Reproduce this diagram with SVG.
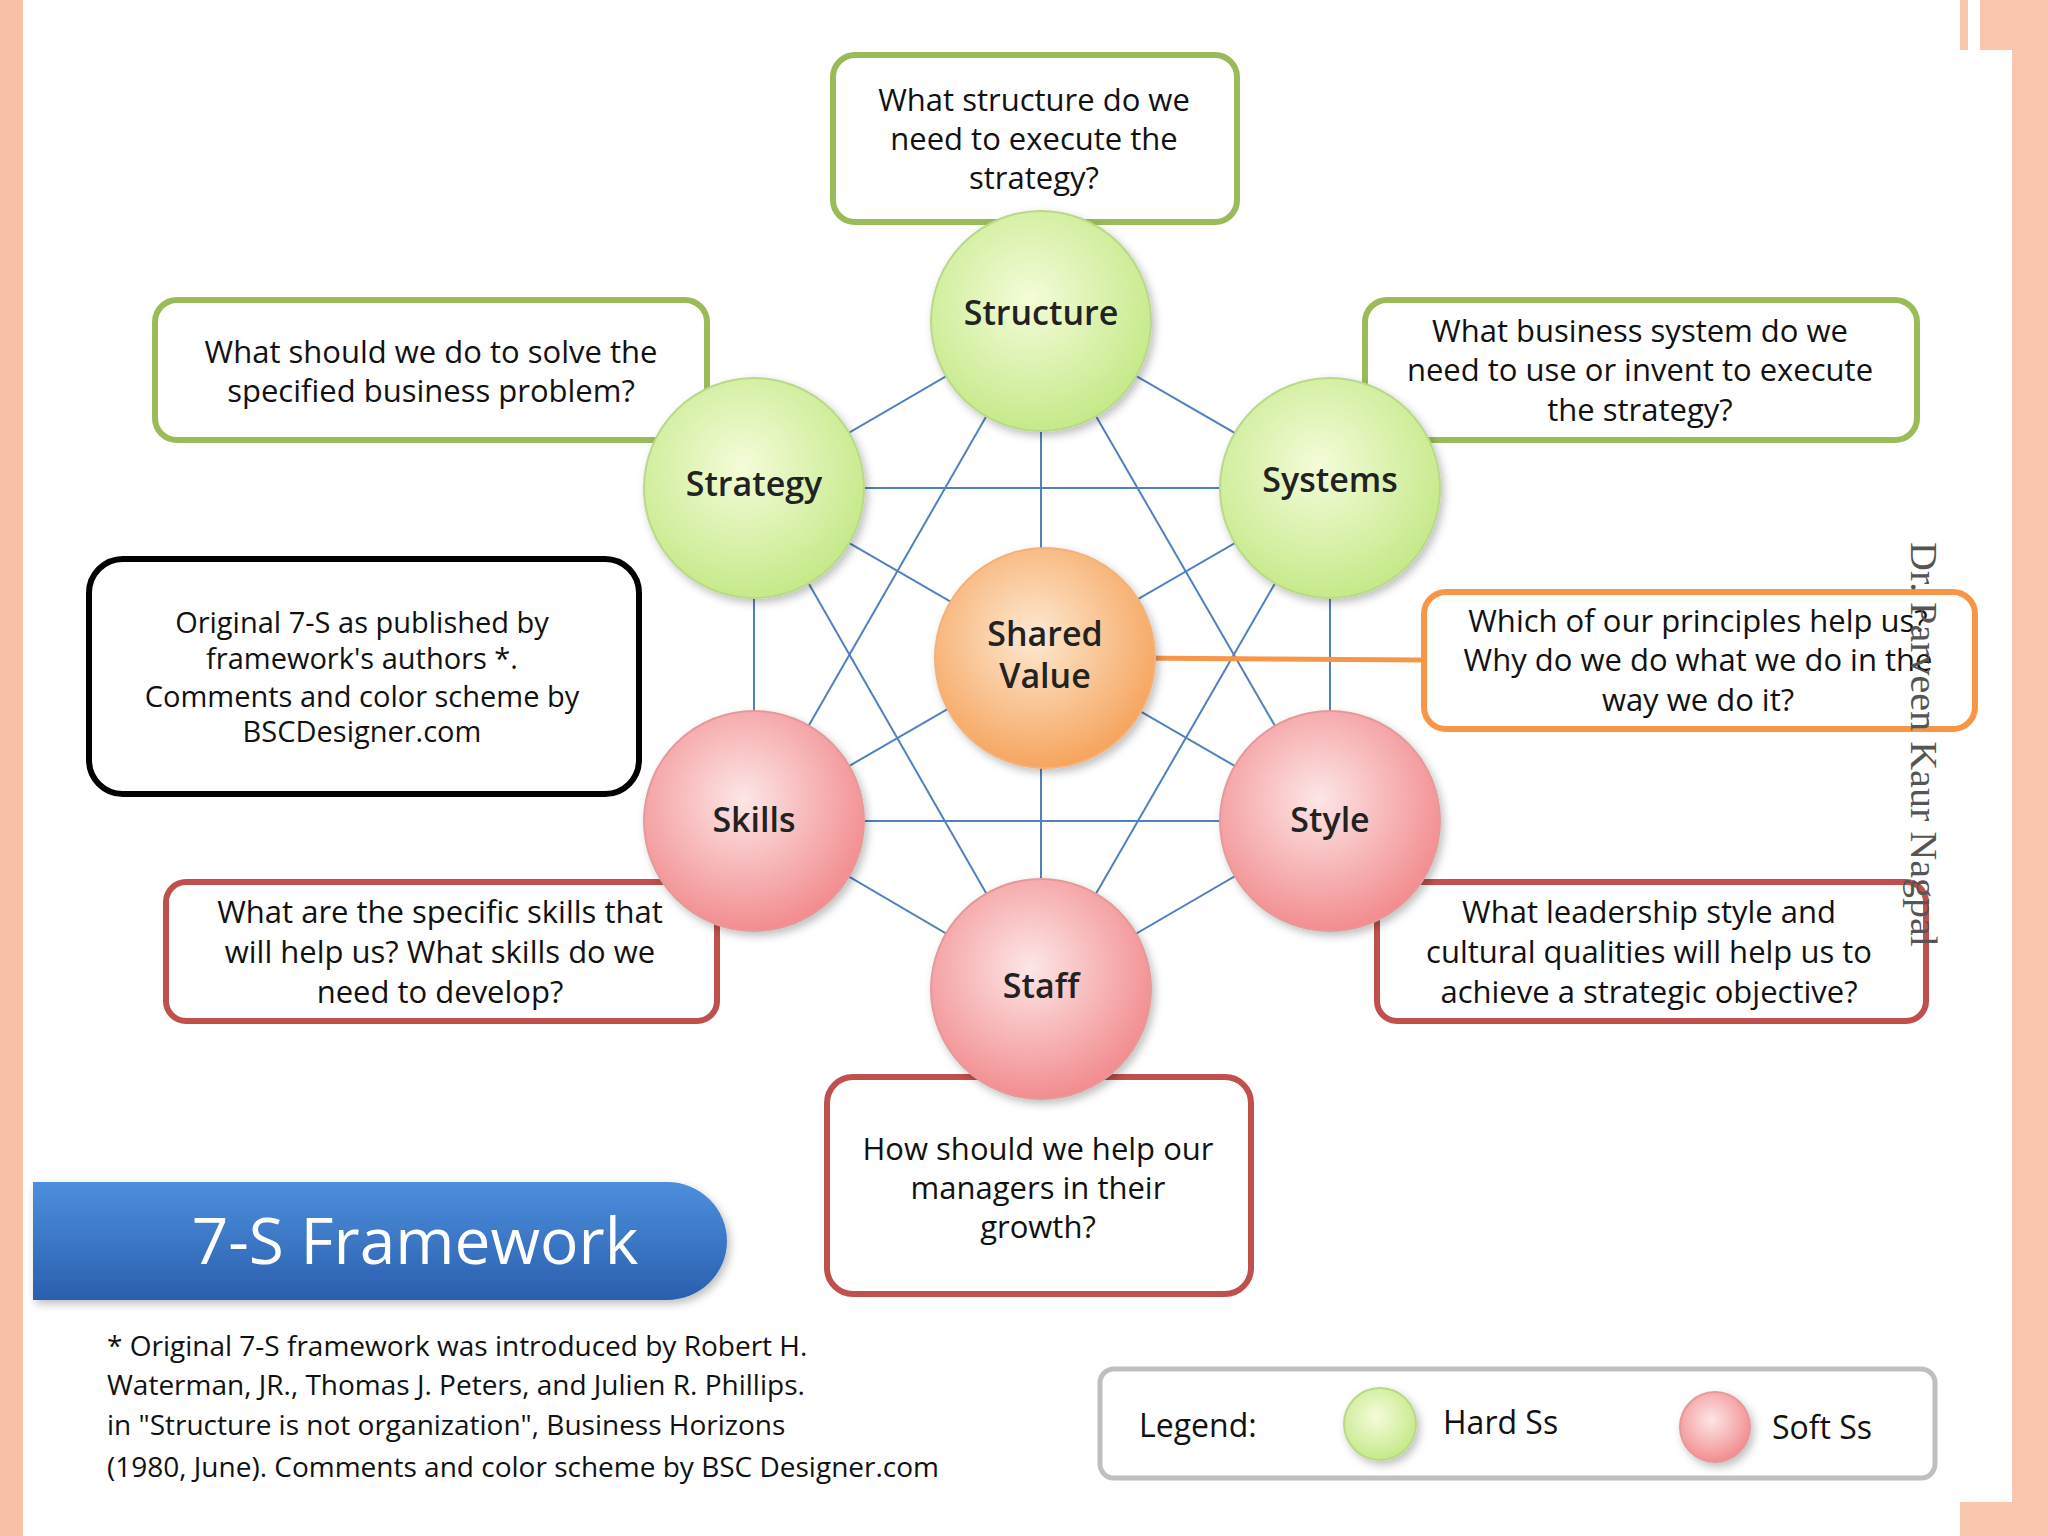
<svg xmlns="http://www.w3.org/2000/svg" width="2048" height="1536" viewBox="0 0 2048 1536">
<defs>
<radialGradient id="gG" cx="0.45" cy="0.4" r="0.6"><stop offset="0" stop-color="#f4fcd9"/><stop offset="1" stop-color="#c6e98a"/></radialGradient>
<radialGradient id="gR" cx="0.45" cy="0.4" r="0.6"><stop offset="0" stop-color="#fde6e6"/><stop offset="1" stop-color="#f28d90"/></radialGradient>
<radialGradient id="gO" cx="0.45" cy="0.4" r="0.6"><stop offset="0" stop-color="#fde9d2"/><stop offset="1" stop-color="#f6a55f"/></radialGradient>
<linearGradient id="gB" x1="0" y1="0" x2="0" y2="1"><stop offset="0" stop-color="#4d8fdc"/><stop offset="1" stop-color="#2a5fae"/></linearGradient>
<filter id="sh" x="-20%" y="-20%" width="140%" height="140%"><feDropShadow dx="3" dy="4" stdDeviation="4" flood-color="#000" flood-opacity="0.25"/></filter>
</defs>
<style>
text{font-family:"Open Sans","DejaVu Sans",sans-serif;fill:#111}
.q{font-size:31px;text-anchor:middle}
.c{font-size:34px;text-anchor:middle;font-weight:600;fill:#222}
.box{fill:#fff;stroke-width:6}
.g{stroke:#9bbb59}.r{stroke:#c0504d}.o{stroke:#f79646}.k{stroke:#000}
.ln{stroke:#4f81bd;stroke-width:2}
</style>
<rect width="2048" height="1536" fill="#fff"/>
<rect x="0" y="0" width="23" height="1536" fill="#f9c2a8"/>
<rect x="2012" y="0" width="36" height="1536" fill="#fbc6ae"/>
<rect x="1960" y="0" width="88" height="50" fill="#fbc6ae"/>
<rect x="1968" y="0" width="12" height="50" fill="#fff"/>
<rect x="1960" y="1502" width="88" height="34" fill="#fbc6ae"/>
<g id="connectors">
<line class="ln" x1="1041" y1="321" x2="754" y2="488"/>
<line class="ln" x1="1041" y1="321" x2="1330" y2="488"/>
<line class="ln" x1="754" y1="488" x2="1330" y2="488"/>
<line class="ln" x1="1041" y1="321" x2="1041" y2="989"/>
<line class="ln" x1="754" y1="488" x2="754" y2="821"/>
<line class="ln" x1="1330" y1="488" x2="1330" y2="821"/>
<line class="ln" x1="754" y1="821" x2="1330" y2="821"/>
<line class="ln" x1="754" y1="821" x2="1041" y2="989"/>
<line class="ln" x1="1330" y1="821" x2="1041" y2="989"/>
<line class="ln" x1="754" y1="488" x2="1330" y2="821"/>
<line class="ln" x1="1330" y1="488" x2="754" y2="821"/>
<line class="ln" x1="1041" y1="321" x2="754" y2="821"/>
<line class="ln" x1="1041" y1="321" x2="1330" y2="821"/>
<line class="ln" x1="754" y1="488" x2="1041" y2="989"/>
<line class="ln" x1="1330" y1="488" x2="1041" y2="989"/>
<line x1="1130" y1="658" x2="1424" y2="660" stroke="#f79646" stroke-width="5"/>
</g>
<g id="q-structure"><rect class="box g" x="833" y="55" width="404" height="167" rx="22"/>
<text class="q" x="1034" y="111">What structure do we</text><text class="q" x="1034" y="150">need to execute the</text><text class="q" x="1034" y="189">strategy?</text></g>
<g id="q-strategy"><rect class="box g" x="155" y="300" width="552" height="140" rx="22"/>
<text class="q" x="431" y="363">What should we do to solve the</text><text class="q" x="431" y="402">specified business problem?</text></g>
<g id="q-systems"><rect class="box g" x="1365" y="300" width="552" height="140" rx="22"/>
<text class="q" x="1640" y="342">What business system do we</text><text class="q" x="1640" y="381">need to use or invent to execute</text><text class="q" x="1640" y="421">the strategy?</text></g>
<g id="note"><rect class="box k" x="89" y="559" width="550" height="235" rx="34"/>
<text class="q" style="font-size:29px" x="362" y="633">Original 7-S as published by</text><text class="q" style="font-size:29px" x="362" y="669">framework's authors *.</text><text class="q" style="font-size:29px" x="362" y="707">Comments and color scheme by</text><text class="q" style="font-size:29px" x="362" y="742">BSCDesigner.com</text></g>
<g id="q-shared"><rect class="box o" x="1424" y="592" width="551" height="137" rx="22"/>
<text class="q" x="1698" y="632">Which of our principles help us?</text><text class="q" x="1698" y="671">Why do we do what we do in the</text><text class="q" x="1698" y="711">way we do it?</text></g>
<g id="q-skills"><rect class="box r" x="166" y="882" width="551" height="139" rx="20"/>
<text class="q" x="440" y="923">What are the specific skills that</text><text class="q" x="440" y="963">will help us? What skills do we</text><text class="q" x="440" y="1003">need to develop?</text></g>
<g id="q-style"><rect class="box r" x="1377" y="882" width="549" height="139" rx="20"/>
<text class="q" x="1649" y="923">What leadership style and</text><text class="q" x="1649" y="963">cultural qualities will help us to</text><text class="q" x="1649" y="1003">achieve a strategic objective?</text></g>
<g id="q-staff"><rect class="box r" x="827" y="1077" width="424" height="217" rx="26"/>
<text class="q" x="1038" y="1160">How should we help our</text><text class="q" x="1038" y="1199">managers in their</text><text class="q" x="1038" y="1238">growth?</text></g>
<g id="structure"><circle cx="1041" cy="321" r="110" fill="url(#gG)" stroke="#b9d98a" stroke-width="2" filter="url(#sh)"/><text class="c" x="1041" y="325">Structure</text></g>
<g id="strategy"><circle cx="754" cy="488" r="110" fill="url(#gG)" stroke="#b9d98a" stroke-width="2" filter="url(#sh)"/><text class="c" x="754" y="496">Strategy</text></g>
<g id="systems"><circle cx="1330" cy="488" r="110" fill="url(#gG)" stroke="#b9d98a" stroke-width="2" filter="url(#sh)"/><text class="c" x="1330" y="492">Systems</text></g>
<g id="shared-value"><circle cx="1045" cy="658" r="110" fill="url(#gO)" stroke="#f2b27a" stroke-width="2" filter="url(#sh)"/><text class="c" x="1045" y="646">Shared</text><text class="c" x="1045" y="688">Value</text></g>
<g id="skills"><circle cx="754" cy="821" r="110" fill="url(#gR)" stroke="#e49a9a" stroke-width="2" filter="url(#sh)"/><text class="c" x="754" y="832">Skills</text></g>
<g id="style"><circle cx="1330" cy="821" r="110" fill="url(#gR)" stroke="#e49a9a" stroke-width="2" filter="url(#sh)"/><text class="c" x="1330" y="832">Style</text></g>
<g id="staff"><circle cx="1041" cy="989" r="110" fill="url(#gR)" stroke="#e49a9a" stroke-width="2" filter="url(#sh)"/><text class="c" x="1041" y="998">Staff</text></g>
<g id="title"><path d="M33 1182 H667 A60 59 0 0 1 667 1300 H33 Z" fill="url(#gB)" filter="url(#sh)"/>
<text x="415" y="1264" style="font-size:64px;fill:#fff;text-anchor:middle">7-S Framework</text></g>
<g id="footnote">
<text x="107" y="1356" style="font-size:28px">* Original 7-S framework was introduced by Robert H.</text>
<text x="107" y="1395" style="font-size:28px">Waterman, JR., Thomas J. Peters, and Julien R. Phillips.</text>
<text x="107" y="1435" style="font-size:28px">in "Structure is not organization", Business Horizons</text>
<text x="107" y="1477" style="font-size:28px">(1980, June). Comments and color scheme by BSC Designer.com</text></g>
<g id="legend"><rect x="1100" y="1369" width="835" height="109" rx="14" fill="#fff" stroke="#bfbfbf" stroke-width="5"/>
<text x="1139" y="1437" style="font-size:32px">Legend:</text>
<circle cx="1380" cy="1424" r="36" fill="url(#gG)" stroke="#b9d98a" stroke-width="2" filter="url(#sh)"/>
<text x="1443" y="1434" style="font-size:32px">Hard Ss</text>
<circle cx="1715" cy="1427" r="35" fill="url(#gR)" stroke="#e49a9a" stroke-width="2" filter="url(#sh)"/>
<text x="1772" y="1439" style="font-size:32px">Soft Ss</text></g>
<text transform="translate(1911,542) rotate(90)" textLength="405" lengthAdjust="spacingAndGlyphs" style="font-family:'Liberation Serif',serif;font-size:38px;fill:#555">Dr. Parveen Kaur Nagpal</text>
</svg>
